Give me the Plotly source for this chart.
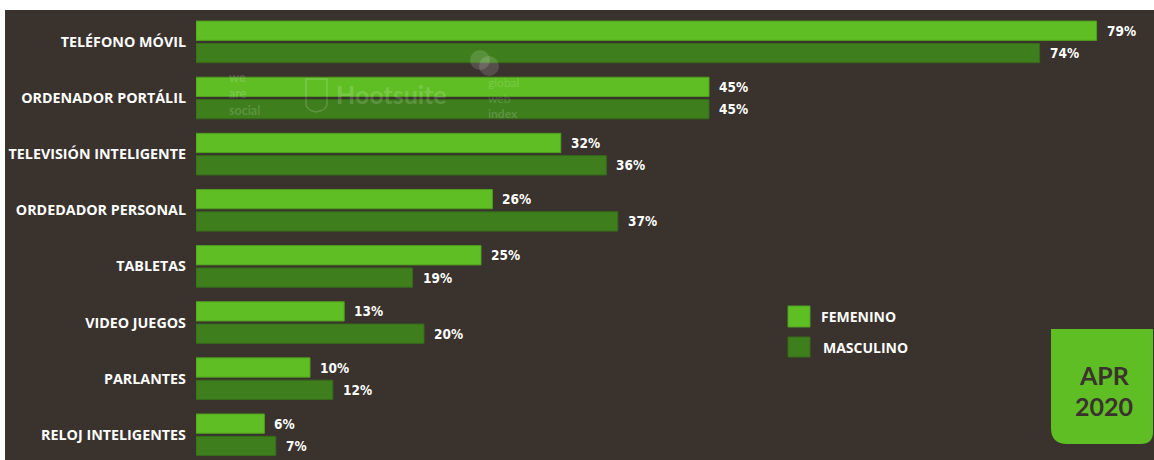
import plotly.graph_objects as go

# Device ownership by gender
categories = [
    "TELÉFONO MÓVIL",
    "ORDENADOR PORTÁLIL",
    "TELEVISIÓN INTELIGENTE",
    "ORDEDADOR PERSONAL",
    "TABLETAS",
    "VIDEO JUEGOS",
    "PARLANTES",
    "RELOJ INTELIGENTES",
]
femenino = [79, 45, 32, 26, 25, 13, 10, 6]
masculino = [74, 45, 36, 37, 19, 20, 12, 7]
series_names = ["FEMENINO", "MASCULINO"]
badge_lines = ["APR", "2020"]

BG = "#3a322d"
LIGHT = "#5fbe24"
DARK = "#3e7e1d"
W, H = 1154, 460
L, T = 196, 10  # plot area left / top in pixels
PW, PH = W - L, H - T


def px(x):
    return (x - L) / PW


def py(y):
    return (H - y) / PH


fig = go.Figure()
fig.add_trace(go.Bar(
    y=categories, x=femenino, orientation="h", name=series_names[0],
    marker=dict(color=LIGHT, line=dict(color="#4f9e1f", width=1)),
    hoverinfo="x+y",
))
fig.add_trace(go.Bar(
    y=categories, x=masculino, orientation="h", name=series_names[1],
    marker=dict(color=DARK, line=dict(color="#356b19", width=1)),
    hoverinfo="x+y",
))

value_font = dict(family="DejaVu Sans Condensed, sans-serif",
                  size=13.5, color="white", weight="bold")
annotations = []
off = 0.1986
for i, (f, m) in enumerate(zip(femenino, masculino)):
    annotations.append(dict(x=f, y=i - off, xref="x", yref="y", text=f"{f}%",
                            showarrow=False, xanchor="left", xshift=8, font=value_font))
    annotations.append(dict(x=m, y=i + off, xref="x", yref="y", text=f"{m}%",
                            showarrow=False, xanchor="left", xshift=8, font=value_font))

shapes = [
    # white frame bands at top and left
    dict(type="rect", xref="paper", yref="paper", x0=px(0), x1=px(W), y0=py(10), y1=py(0),
         fillcolor="white", line=dict(width=0), layer="above"),
    dict(type="rect", xref="paper", yref="paper", x0=px(0), x1=px(5), y0=py(H), y1=py(0),
         fillcolor="white", line=dict(width=0), layer="above"),
]

# legend swatches
leg_font = dict(family="Open Sans", size=14, color="white", weight="bold")
for (y0, y1, col, lc, name, tx) in [
    (306, 327, LIGHT, "#4f9e1f", series_names[0], 819),
    (337, 357, DARK, "#356b19", series_names[1], 821),
]:
    shapes.append(dict(type="rect", xref="paper", yref="paper", x0=px(788), x1=px(810),
                       y0=py(y1), y1=py(y0), fillcolor=col, line=dict(color=lc, width=1)))
    annotations.append(dict(x=px(tx), y=py((y0 + y1) / 2), xref="paper", yref="paper",
                            text=name, showarrow=False, xanchor="left", yanchor="middle",
                            font=leg_font))

# date badge with rounded bottom corners
bx0, bx1, by0, by1, r1, r2 = 1051, 1153, 329, 444, 16, 12
path = (f"M {px(bx0)} {py(by0)} L {px(bx1)} {py(by0)} L {px(bx1)} {py(by1 - r2)} "
        f"Q {px(bx1)} {py(by1)} {px(bx1 - r2)} {py(by1)} L {px(bx0 + r1)} {py(by1)} "
        f"Q {px(bx0)} {py(by1)} {px(bx0)} {py(by1 - r1)} Z")
shapes.append(dict(type="path", xref="paper", yref="paper", path=path,
                   fillcolor=LIGHT, line=dict(width=0)))
for txt, yc in zip(badge_lines, [375, 406]):
    annotations.append(dict(x=px(1104), y=py(yc), xref="paper", yref="paper", text=txt,
                            showarrow=False, xanchor="center", yanchor="middle",
                            font=dict(family="Lato", size=25, color=BG, weight="bold")))

# faint partner watermarks
wm = "rgba(255,255,255,0.17)"
annotations.append(dict(x=px(227), y=py(94), xref="paper", yref="paper",
                        text="we<br>are<br>social", showarrow=False, xanchor="left",
                        yanchor="middle", align="left",
                        font=dict(family="Lato", size=12.5, color=wm, weight="bold")))
annotations.append(dict(x=px(334), y=py(94), xref="paper", yref="paper",
                        text="Hootsuite", showarrow=False, xanchor="left", yanchor="middle",
                        font=dict(family="Lato", size=25, color=wm, weight="bold")))
annotations.append(dict(x=px(486), y=py(98), xref="paper", yref="paper",
                        text="global<br>web<br><b>index</b>", showarrow=False, xanchor="left",
                        yanchor="middle", align="left",
                        font=dict(family="Lato", size=12, color=wm)))
shapes.append(dict(type="path", xref="paper", yref="paper",
                   path=(f"M {px(306)} {py(79)} L {px(327)} {py(79)} L {px(327)} {py(104)} "
                         f"Q {px(327)} {py(110)} {px(316)} {py(112)} "
                         f"Q {px(306)} {py(110)} {px(306)} {py(104)} Z"),
                   line=dict(color=wm, width=1.5)))
for cx, cy in [(480, 60), (489, 66)]:
    shapes.append(dict(type="circle", xref="paper", yref="paper", x0=px(cx - 10),
                       x1=px(cx + 10), y0=py(cy + 10), y1=py(cy - 10),
                       fillcolor="rgba(255,255,255,0.14)", line=dict(width=0)))

fig.update_layout(
    width=W, height=H,
    margin=dict(l=L, r=0, t=T, b=0, pad=0),
    paper_bgcolor=BG, plot_bgcolor=BG,
    barmode="group", bargap=0.205, bargroupgap=0.135,
    showlegend=False,
    xaxis=dict(range=[0, PW / 11.4], visible=False, fixedrange=True),
    yaxis=dict(type="category", range=[7.449, -0.568], showgrid=False, zeroline=False,
               showline=False, ticks="", ticklabelstandoff=9,
               tickfont=dict(family="Open Sans", size=14.3, color="white", weight="bold"),
               fixedrange=True),
    annotations=annotations,
    shapes=shapes,
)

fig.write_html("out.html")
